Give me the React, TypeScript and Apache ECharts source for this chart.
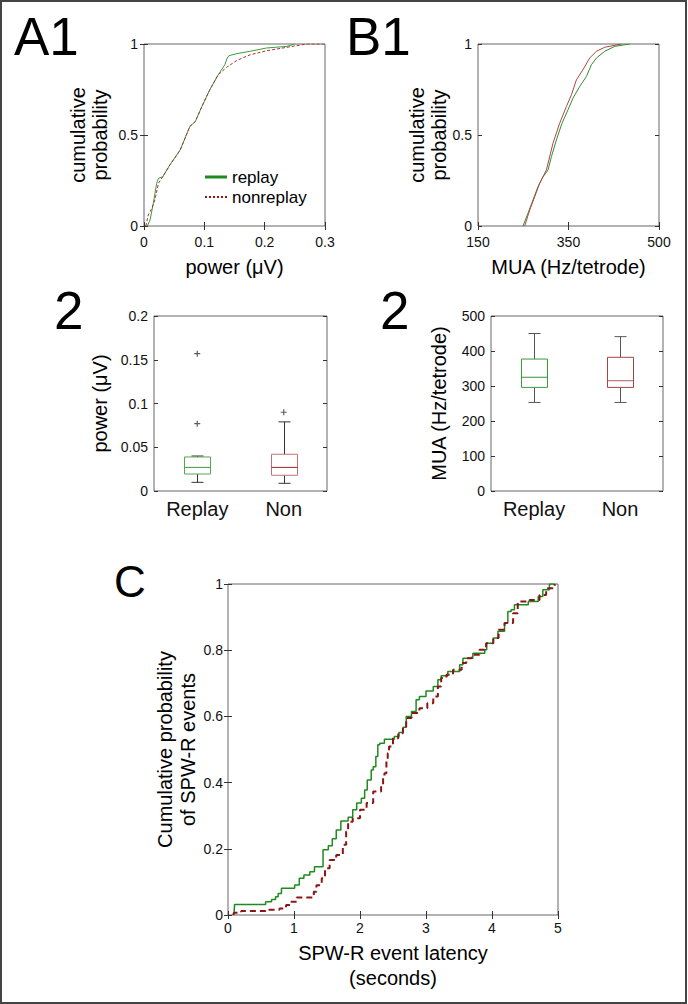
import React, { useEffect, useRef } from "react";
import * as echarts from "echarts";

const FONT = "'Liberation Sans', Arial, Helvetica, sans-serif";

// ---------- Panel A1: cumulative probability of power ----------
const a1ReplayX = [0.0055, 0.01, 0.0155, 0.021, 0.024, 0.031, 0.043, 0.06, 0.076, 0.085, 0.096, 0.109, 0.123, 0.134, 0.138, 0.141, 0.154, 0.176, 0.203, 0.237, 0.25];
const a1ReplayY = [0, 0.033, 0.125, 0.235, 0.262, 0.27, 0.336, 0.418, 0.547, 0.574, 0.657, 0.748, 0.831, 0.886, 0.923, 0.936, 0.947, 0.96, 0.978, 0.987, 1.0];
const a1NonX = [0.003, 0.007, 0.013, 0.018, 0.024, 0.031, 0.043, 0.06, 0.076, 0.085, 0.096, 0.109, 0.123, 0.137, 0.154, 0.176, 0.203, 0.237, 0.27, 0.3];
const a1NonY = [0, 0.06, 0.097, 0.143, 0.235, 0.27, 0.336, 0.418, 0.547, 0.574, 0.657, 0.748, 0.831, 0.872, 0.91, 0.941, 0.963, 0.982, 1.0, 1.0];

// ---------- Panel B1: cumulative probability of MUA ----------
const b1ReplayX = [237, 246.7, 256.4, 266, 275.7, 285.4, 292, 301.6, 312.5, 324, 333.8, 346.7, 359.7, 369.3, 379, 395, 414.4, 443.4];
const b1ReplayY = [0, 0.07, 0.143, 0.216, 0.27, 0.308, 0.381, 0.473, 0.565, 0.638, 0.703, 0.767, 0.822, 0.886, 0.923, 0.96, 0.987, 1.0];
const b1NonX = [240.3, 250, 259.7, 269.3, 282.3, 295, 308, 321, 330.7, 340.3, 353, 366, 379, 395, 427.4];
const b1NonY = [0, 0.088, 0.161, 0.235, 0.308, 0.455, 0.565, 0.657, 0.721, 0.803, 0.859, 0.923, 0.96, 0.982, 1.0];
const b1XTickValues = [150, 325, 500];
const b1XTickLabels = ["150", "350", "500"];

// ---------- Panel A2 / B2: box plots ----------
const boxCategories = ["Replay", "Non"];
// [low whisker, Q1, median, Q3, high whisker]
const a2Replay = [0.0099, 0.0194, 0.027, 0.0389, 0.04];
const a2Non = [0.0088, 0.018, 0.027, 0.042, 0.079];
const a2ReplayOutliers = [0.157, 0.077];
const a2NonOutliers = [0.09];
const b2Replay = [253, 296, 325, 377, 450];
const b2Non = [253, 296, 315, 382, 441];

// ---------- Panel C: latency CDF ----------
const cReplayX = [0.09, 0.1, 0.57, 0.66, 0.72, 0.76, 0.81, 1.01, 1.08, 1.15, 1.24, 1.31, 1.44, 1.52, 1.58, 1.64, 1.71, 1.82, 1.89, 1.95, 2.02, 2.07, 2.11, 2.17, 2.2, 2.24, 2.27, 2.3, 2.37, 2.52, 2.59, 2.65, 2.7, 2.78, 2.85, 2.9, 3.0, 3.11, 3.18, 3.23, 3.33, 3.51, 3.56, 3.71, 3.89, 3.92, 4.02, 4.09, 4.19, 4.24, 4.29, 4.34, 4.55, 4.7, 4.77, 4.87, 4.95];
const cReplayY = [0, 0.032, 0.04, 0.047, 0.055, 0.065, 0.081, 0.091, 0.111, 0.121, 0.131, 0.146, 0.197, 0.209, 0.23, 0.257, 0.284, 0.295, 0.318, 0.338, 0.353, 0.378, 0.408, 0.438, 0.448, 0.479, 0.514, 0.519, 0.531, 0.539, 0.551, 0.567, 0.6, 0.615, 0.65, 0.66, 0.677, 0.69, 0.711, 0.723, 0.736, 0.756, 0.776, 0.791, 0.801, 0.821, 0.837, 0.857, 0.882, 0.917, 0.922, 0.937, 0.947, 0.962, 0.983, 1.0, 1.0];
const cNonX = [0.08, 0.09, 0.2, 0.61, 0.78, 0.88, 0.96, 1.04, 1.3, 1.34, 1.42, 1.47, 1.54, 1.64, 1.74, 1.79, 1.82, 1.89, 2.0, 2.1, 2.2, 2.32, 2.35, 2.37, 2.4, 2.42, 2.44, 2.5, 2.58, 2.65, 2.7, 2.78, 2.9, 3.02, 3.11, 3.18, 3.23, 3.31, 3.41, 3.54, 3.61, 3.69, 3.81, 3.91, 4.02, 4.1, 4.19, 4.32, 4.39, 4.57, 4.72, 4.82, 4.95];
const cNonY = [0, 0.007, 0.012, 0.016, 0.02, 0.03, 0.04, 0.053, 0.07, 0.09, 0.111, 0.141, 0.166, 0.181, 0.212, 0.252, 0.282, 0.292, 0.318, 0.338, 0.373, 0.393, 0.418, 0.428, 0.469, 0.489, 0.509, 0.534, 0.549, 0.569, 0.595, 0.61, 0.625, 0.64, 0.66, 0.69, 0.716, 0.726, 0.741, 0.761, 0.776, 0.786, 0.801, 0.821, 0.837, 0.862, 0.882, 0.912, 0.947, 0.952, 0.967, 0.987, 1.0];

const zip = (xs: number[], ys: number[]) => xs.map((x, i) => [x, ys[i]]);

const GREEN_C = "#1f8a1f";
const RED_C = "#8b1414";

const tickStyle = { show: true, inside: true, length: 4, lineStyle: { color: "#333", width: 1 } };
const labelStyle = { color: "#111", fontFamily: FONT, fontSize: 14 };
const nameStyle = { color: "#000", fontFamily: FONT, fontSize: 20, lineHeight: 22 };

function buildOption() {
  const grids = [
    { left: 144, top: 44, width: 181, height: 182 }, // A1
    { left: 478, top: 44, width: 181, height: 182 }, // B1
    { left: 154, top: 316, width: 173, height: 175 }, // A2
    { left: 491, top: 316, width: 172, height: 175 }, // B2
    { left: 228, top: 584, width: 330, height: 331 }, // C
  ].map((g) => ({ ...g, show: true, borderColor: "#666", borderWidth: 1, backgroundColor: "#fff" }));

  const xAxes: any[] = [];
  const yAxes: any[] = [];

  const valX = (gridIndex: number, min: number, max: number, interval: number | null, extra: any = {}) => {
    const base: any = {
      type: "value", gridIndex, min, max,
      axisLine: { show: false }, splitLine: { show: false },
      axisTick: { ...tickStyle }, axisLabel: { ...labelStyle, margin: 9 },
      nameLocation: "middle", nameTextStyle: nameStyle, nameMoveOverlap: false,
    };
    if (interval != null) base.interval = interval;
    const main = { ...base, position: "bottom", ...extra };
    const mirror: any = { ...base, position: "top", axisLabel: { show: false }, name: "" };
    if (extra.axisTick) mirror.axisTick = extra.axisTick;
    xAxes.push(main);
    const idx = xAxes.length - 1;
    xAxes.push(mirror);
    return idx;
  };
  const valY = (gridIndex: number, min: number, max: number, interval: number, extra: any = {}) => {
    const base: any = {
      type: "value", gridIndex, min, max, interval,
      axisLine: { show: false }, splitLine: { show: false },
      axisTick: { ...tickStyle }, axisLabel: { ...labelStyle, margin: 6 },
      nameLocation: "middle", nameRotate: 90, nameTextStyle: nameStyle, nameMoveOverlap: false,
    };
    yAxes.push({ ...base, position: "left", ...extra });
    const idx = yAxes.length - 1;
    yAxes.push({ ...base, position: "right", axisLabel: { show: false }, name: "" });
    return idx;
  };
  const catX = (gridIndex: number) => {
    xAxes.push({
      type: "category", gridIndex, data: boxCategories, position: "bottom", boundaryGap: true,
      axisLine: { show: false }, axisTick: { show: false }, splitLine: { show: false },
      axisLabel: { color: "#111", fontFamily: FONT, fontSize: 20, margin: 8 },
    });
    return xAxes.length - 1;
  };

  // A1
  const a1x = valX(0, 0, 0.3, 0.1, { name: "power (\u03bcV)", nameGap: 30 });
  const a1y = valY(0, 0, 1, 0.5, { name: "cumulative\nprobability", nameGap: 33 });
  // B1
  const b1Tick = { ...tickStyle, customValues: b1XTickValues };
  const b1x = valX(1, 150, 500, null, {
    name: "MUA (Hz/tetrode)", nameGap: 30,
    axisTick: b1Tick,
    axisLabel: {
      ...labelStyle, margin: 9, customValues: b1XTickValues,
      formatter: (v: number) => {
        const i = b1XTickValues.indexOf(v);
        return i >= 0 ? b1XTickLabels[i] : "";
      },
    },
  });
  const b1y = valY(1, 0, 1, 0.5, { name: "cumulative\nprobability", nameGap: 28 });
  // A2
  const a2x = catX(2);
  const a2y = valY(2, 0, 0.2, 0.05, { name: "power (\u03bcV)", nameGap: 43 });
  // B2
  const b2x = catX(3);
  const b2y = valY(3, 0, 500, 100, { name: "MUA (Hz/tetrode)", nameGap: 41 });
  // C
  const cx = valX(4, 0, 5, 1, {
    name: "SPW-R event latency\n(seconds)", nameGap: 25,
    nameTextStyle: { ...nameStyle, lineHeight: 25 },
    axisLabel: { ...labelStyle, margin: 6 },
  });
  const cy = valY(4, 0, 1, 0.2, {
    name: "Cumulative probability\nof SPW-R events", nameGap: 29,
    nameTextStyle: { ...nameStyle, lineHeight: 23 },
    axisLabel: { ...labelStyle, margin: 5 },
  });

  const boxSeries = (xi: number, yi: number, rows: number[][], boxColors: string[], medColors: string[], whisker: string) => ({
    type: "custom",
    xAxisIndex: xi,
    yAxisIndex: yi,
    encode: { x: 0, y: [1, 2, 3, 4, 5] },
    data: rows.map((r, i) => [i, ...r]),
    renderItem: (params: any, api: any) => {
      const c = api.value(0);
      const lo = api.coord([c, api.value(1)]);
      const q1 = api.coord([c, api.value(2)]);
      const md = api.coord([c, api.value(3)]);
      const q3 = api.coord([c, api.value(4)]);
      const hi = api.coord([c, api.value(5)]);
      const x = Math.round(lo[0]) + 0.5;
      const half = 13;
      const cap = 6;
      const ws = { stroke: whisker, lineWidth: 1 };
      const i = params.dataIndex;
      return {
        type: "group",
        children: [
          { type: "line", shape: { x1: x, y1: hi[1], x2: x, y2: q3[1] }, style: ws },
          { type: "line", shape: { x1: x, y1: q1[1], x2: x, y2: lo[1] }, style: ws },
          { type: "line", shape: { x1: x - cap, y1: hi[1], x2: x + cap, y2: hi[1] }, style: ws },
          { type: "line", shape: { x1: x - cap, y1: lo[1], x2: x + cap, y2: lo[1] }, style: ws },
          { type: "rect", shape: { x: x - half, y: q3[1], width: half * 2, height: q1[1] - q3[1] }, style: { fill: "none", stroke: boxColors[i], lineWidth: 1 } },
          { type: "line", shape: { x1: x - half, y1: md[1], x2: x + half, y2: md[1] }, style: { stroke: medColors[i], lineWidth: 1 } },
        ],
      };
    },
  });

  const plusSymbol = "path://M4,0H6V4H10V6H6V10H4V6H0V4H4Z";

  const series: any[] = [
    // A1
    { type: "line", name: "replay", xAxisIndex: a1x, yAxisIndex: a1y, data: zip(a1ReplayX, a1ReplayY), symbol: "none", lineStyle: { color: "#3c9c3c", width: 1 } },
    { type: "line", name: "nonreplay", xAxisIndex: a1x, yAxisIndex: a1y, data: zip(a1NonX, a1NonY), symbol: "none", lineStyle: { color: "#a83232", width: 1, type: [3, 2] } },
    // B1
    { type: "line", name: "replay B", xAxisIndex: b1x, yAxisIndex: b1y, data: zip(b1ReplayX, b1ReplayY), symbol: "none", lineStyle: { color: "#2f8f2f", width: 1 } },
    { type: "line", name: "nonreplay B", xAxisIndex: b1x, yAxisIndex: b1y, data: zip(b1NonX, b1NonY), symbol: "none", lineStyle: { color: "#b04545", width: 1 } },
    // A2
    boxSeries(a2x, a2y, [a2Replay, a2Non], ["#55a855", "#c07272"], ["#3d9a3d", "#8b2a2a"], "#333"),
    {
      type: "scatter", xAxisIndex: a2x, yAxisIndex: a2y, symbol: plusSymbol, symbolSize: 6,
      itemStyle: { color: "#333" },
      data: [...a2ReplayOutliers.map((v) => [0, v]), ...a2NonOutliers.map((v) => [1, v])],
    },
    // B2
    boxSeries(b2x, b2y, [b2Replay, b2Non], ["#3f9a3f", "#a44444"], ["#3a923a", "#b35a5a"], "#555"),
    // C
    { type: "line", name: "replay C", step: "end", xAxisIndex: cx, yAxisIndex: cy, data: zip(cReplayX, cReplayY), symbol: "none", lineStyle: { color: GREEN_C, width: 1.5 } },
    { type: "line", name: "nonreplay C", step: "end", xAxisIndex: cx, yAxisIndex: cy, data: zip(cNonX, cNonY), symbol: "none", lineStyle: { color: RED_C, width: 2, type: [6, 4] } },
  ];

  const letter = (text: string, x: number, y: number, size: number) => ({
    type: "text", x, y, silent: true,
    style: { text, fontSize: size, fontFamily: FONT, fill: "#000", verticalAlign: "middle", textVerticalAlign: "middle", align: "left", textAlign: "left" },
  });

  const graphic: any[] = [
    { type: "rect", shape: { x: 1, y: 1, width: 685, height: 1002 }, style: { fill: "none", stroke: "#444", lineWidth: 2 }, silent: true, z: 100 },
    letter("A1", 14, 36, 53),
    letter("B1", 346, 36, 53),
    letter("2", 54, 310, 53),
    letter("2", 380, 310, 53),
    letter("C", 114, 581, 44),
    // legend of A1
    { type: "line", shape: { x1: 205, y1: 177, x2: 227, y2: 177 }, style: { stroke: "#1f8a1f", lineWidth: 3 }, z: 50 },
    { type: "line", shape: { x1: 205, y1: 197, x2: 227, y2: 197 }, style: { stroke: "#8b1414", lineWidth: 2, lineDash: [2, 2] }, z: 50 },
    { type: "text", x: 232, y: 177, z: 50, style: { text: "replay", fontSize: 17, fontFamily: FONT, fill: "#000", verticalAlign: "middle", textVerticalAlign: "middle" } },
    { type: "text", x: 232, y: 197, z: 50, style: { text: "nonreplay", fontSize: 17, fontFamily: FONT, fill: "#000", verticalAlign: "middle", textVerticalAlign: "middle" } },
  ];

  return {
    animation: false,
    backgroundColor: "#fff",
    textStyle: { fontFamily: FONT },
    grid: grids,
    xAxis: xAxes,
    yAxis: yAxes,
    series,
    graphic,
  };
}

export default function App() {
  const ref = useRef<HTMLDivElement>(null);
  useEffect(() => {
    document.body.style.margin = "0";
    if (!ref.current) return;
    const chart = echarts.init(ref.current, undefined, { renderer: "svg" });
    chart.setOption(buildOption() as any);
    return () => chart.dispose();
  }, []);
  return <div ref={ref} style={{ width: 688, height: 1004 }} />;
}
